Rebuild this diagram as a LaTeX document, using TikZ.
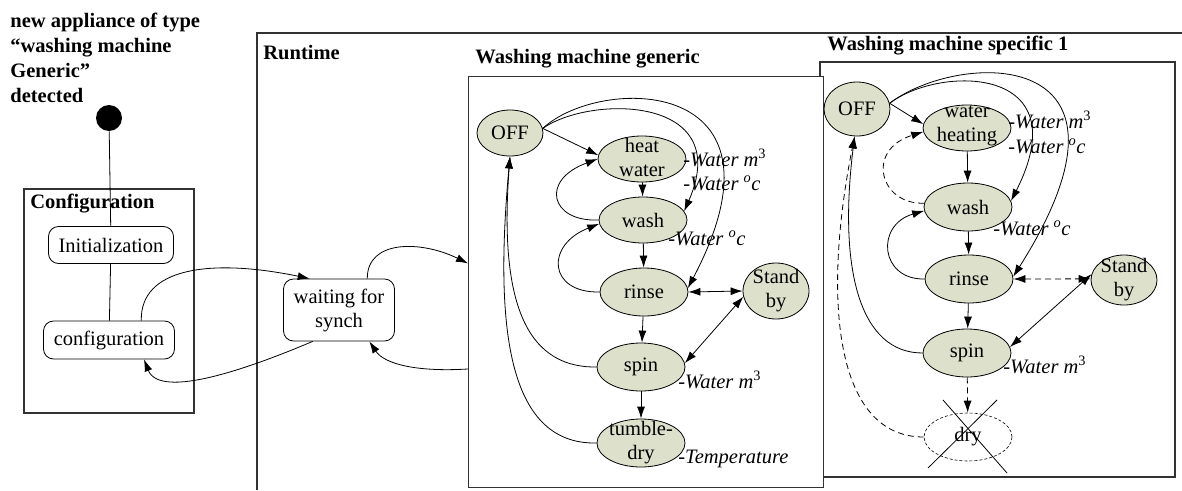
\documentclass[tikz,border=0pt]{standalone}
\usepackage{fontspec}
\setmainfont{Liberation Serif}
\usetikzlibrary{shapes.geometric,arrows.meta}
\definecolor{stfill}{RGB}{221,224,203}
\definecolor{boxline}{RGB}{50,50,50}
\begin{document}
\begin{tikzpicture}[x=1pt,y=-1pt,
  font=\fontsize{20.5}{24}\selectfont,
  line width=0.8pt,
  st/.style={ellipse, draw, fill=stfill, inner sep=0pt, line width=0.8pt},
  txt/.style={inner sep=0pt, align=center},
  rbox/.style={draw, rounded corners=10pt, inner sep=0pt, align=center, fill=white},
  lbl/.style={inner sep=0pt, anchor=base west, font=\fontsize{20.5}{24}\selectfont\itshape},
  ttl/.style={inner sep=0pt, anchor=base west, font=\fontsize{20.5}{24}\selectfont\bfseries},
  frame/.style={draw=boxline, line width=1.2pt},
  arr/.style={-{Latex[length=12pt,width=8pt]}},
  darr/.style={{Latex[length=12pt,width=8pt]}-{Latex[length=12pt,width=8pt]}},
  dsh/.style={dash pattern=on 6pt off 4pt}
]
\useasboundingbox (0,0) rectangle (1182,490);

% title text
\node[inner sep=0pt, anchor=north west, align=left,
      font=\fontsize{20.5}{25}\selectfont\bfseries] (title) at (10,13)
  {new appliance of type\\``washing machine\\Generic''\\detected};

% frames
\draw[frame] (1182,33) -- (257,33) -- (257,490);
\draw[frame] (24,189) rectangle (194,413);
\draw[frame] (820,62) rectangle (1175,477);
\node[frame, fill=white, minimum width=355, minimum height=411, inner sep=0pt,
      anchor=north west] (gen) at (468,76) {};

% frame titles
\node[ttl] (tRun) at (263,59) {Runtime};
\node[ttl] (tConf) at (30,208) {Configuration};
\node[ttl] (tGen) at (475,63) {Washing machine generic};
\node[ttl] (tSpec) at (827,50) {Washing machine specific 1};

% configuration part
\node[circle, fill=black, minimum size=26, inner sep=0pt] (dot) at (109,118) {};
\node[rbox, minimum width=125, minimum height=37] (init) at (111,245) {Initialization};
\node[rbox, minimum width=131, minimum height=38] (conf) at (109,340) {configuration};
\node[rbox, minimum width=111, minimum height=62] (wait) at (339,310) {waiting for\\synch};

\draw (dot) -- (init);
\draw (init) -- (conf);
\draw[arr] (conf.31.5) .. controls (140,268) and (210,258) .. (wait.133);
\draw[arr] (wait.230) .. controls (250,368) and (160,400) .. (conf.-29);
\draw[arr] (wait.48) .. controls (367,240) and (420,240) .. (gen.174.7);
\draw[arr] (gen.206.5) .. controls (420,372) and (385,365) .. (wait.-46);

% generic machine
\node[st, minimum width=66, minimum height=46] (gOFF) at (510,133) {};
\node[st, minimum width=88, minimum height=46] (gHW) at (642,159) {};
\node[st, minimum width=88, minimum height=46] (gWash) at (643,220) {};
\node[st, minimum width=88, minimum height=48] (gRinse) at (644,292) {};
\node[st, minimum width=66, minimum height=56] (gSB) at (776,291) {};
\node[st, minimum width=88, minimum height=48] (gSpin) at (641,367) {};
\node[st, minimum width=88, minimum height=48] (gTD) at (641,443) {};

\node[txt] (gOFFt) at (gOFF) {OFF};
\node[txt] (gHWt) at ([yshift=2pt]gHW.center) {heat\\water};
\node[txt] (gWasht) at (gWash) {wash};
\node[txt] (gRinset) at (gRinse) {rinse};
\node[txt] (gSBt) at (gSB) {Stand\\by};
\node[txt] (gSpint) at (gSpin) {spin};
\node[txt] (gTDt) at (gTD) {tumble-\\dry};

\draw[arr] (gOFF.8) -- (gHW.175);
\draw[arr] (gOFF.8) .. controls (590,95) and (735,95) .. (gWash.12);
\draw[arr] (gOFF.8) .. controls (600,75) and (800,75) .. (gRinse.5);
\draw[arr] (gHW) -- (gWash);
\draw[arr] (gWash.180) .. controls (550,222) and (540,180) .. (gHW.180);
\draw[arr] (gRinse.180) .. controls (548,293) and (545,245) .. (gWash.185);
\draw[arr] (gWash) -- (gRinse);
\draw[arr] (gRinse) -- (gSpin);
\draw[arr] (gSpin) -- (gTD);
\draw[darr] (gRinse.east) -- (gSB.west);
\draw[darr] (gSpin.5) -- (gSB.190);
\draw[arr] (gSpin.180) .. controls (520,368) and (500,290) .. (gOFF.south);
\draw[arr] (gTD.180) .. controls (505,445) and (495,320) .. (gOFF.south);

\node[lbl] (gL1) at (683,166) {-Water m\textsuperscript{\upshape 3}};
\node[lbl] (gL2) at (683,190) {-Water \textsuperscript{o}c};
\node[lbl] (gL3) at (668,245) {-Water \textsuperscript{o}c};
\node[lbl] (gL4) at (678,388) {-Water m\textsuperscript{\upshape 3}};
\node[lbl] (gL5) at (678,463) {-Temperature};

% specific machine
\node[st, minimum width=66, minimum height=54] (sOFF) at (857,109) {};
\node[st, minimum width=88, minimum height=46] (sWH) at (967,128) {};
\node[st, minimum width=88, minimum height=48] (sWash) at (968,207) {};
\node[st, minimum width=88, minimum height=48] (sRinse) at (969,279) {};
\node[st, minimum width=66, minimum height=50] (sSB) at (1124,280) {};
\node[st, minimum width=88, minimum height=48] (sSpin) at (967,353) {};
\node[ellipse, draw, dash pattern=on 3pt off 2pt, line width=0.6pt, inner sep=0pt,
      minimum width=88, minimum height=48] (sDry) at (968,437) {};

\node[txt] (sOFFt) at (sOFF) {OFF};
\node[txt] (sWHt) at ([yshift=2pt]sWH.center) {water\\heating};
\node[txt] (sWasht) at (sWash) {wash};
\node[txt] (sRinset) at (sRinse) {rinse};
\node[txt] (sSBt) at (sSB) {Stand\\by};
\node[txt] (sSpint) at (sSpin) {spin};
\node[txt] (sDryt) at (sDry) {dry};

\draw (943,400) -- (1007,473);
\draw (997,400) -- (928,468);

\draw[arr] (sOFF.10) -- (sWH.175);
\draw[arr] (sOFF.10) .. controls (940,65) and (1080,65) .. (sWash.8);
\draw[arr] (sOFF.10) .. controls (960,50) and (1160,45) .. (sRinse.3);
\draw[arr] (sWH) -- (sWash);
\draw[arr, dsh] (sWash.175) .. controls (880,205) and (865,150) .. (sWH.185);
\draw[arr] (sRinse.180) .. controls (880,280) and (875,225) .. (sWash.185);
\draw[arr] (sWash) -- (sRinse);
\draw[darr, dsh] (sRinse.east) -- (sSB.178);
\draw[darr] (sSpin.8) -- (sSB.170);
\draw[arr] (sRinse) -- (sSpin);
\draw[arr, dsh] (sSpin) -- (sDry);
\draw[arr] (sSpin.180) .. controls (860,353) and (838,270) .. (sOFF.265);
\draw[arr, dsh] (sDry.180) .. controls (835,437) and (822,300) .. (sOFF.265);

\node[lbl] (sL1) at (1008,128) {-Water m\textsuperscript{\upshape 3}};
\node[lbl] (sL2) at (1008,153) {-Water \textsuperscript{o}c};
\node[lbl] (sL3) at (993,235) {-Water \textsuperscript{o}c};
\node[lbl] (sL4) at (1003,373) {-Water m\textsuperscript{\upshape 3}};
\end{tikzpicture}
\end{document}
